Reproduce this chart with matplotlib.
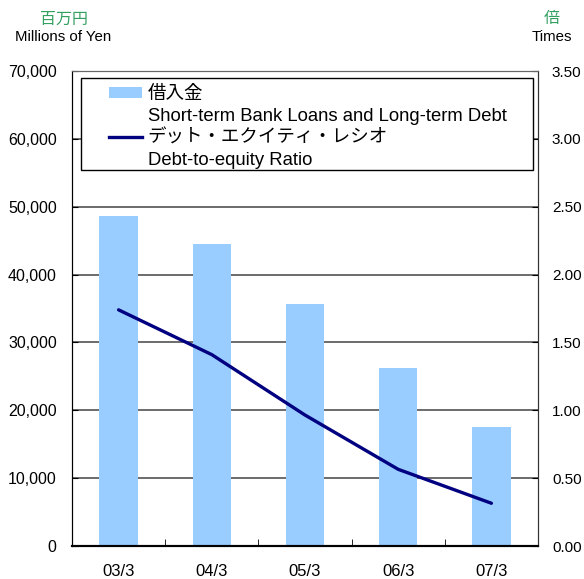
import matplotlib
matplotlib.use("Agg")
import matplotlib.pyplot as plt
from matplotlib.patches import Patch, Rectangle
from matplotlib.lines import Line2D

plt.rcParams['font.family'] = ['Liberation Sans', 'Noto Sans CJK JP', 'DejaVu Sans']

categories = ["03/3", "04/3", "05/3", "06/3", "07/3"]
loans = [48600, 44500, 35700, 26200, 17500]
de_ratio = [1.74, 1.41, 0.965, 0.565, 0.315]
left_ticks = [0, 10000, 20000, 30000, 40000, 50000, 60000, 70000]
right_ticks = [0, 0.5, 1.0, 1.5, 2.0, 2.5, 3.0, 3.5]

fig = plt.figure(figsize=(5.84, 5.79), dpi=100)
ax = fig.add_axes([72/584, 1-546/579, 466/584, 475/579])
ax2 = ax.twinx()

x = list(range(len(categories)))
ax.bar(x, loans, width=0.41, color='#99ccff', zorder=2)
ax.set_xlim(-0.5, 4.5)
ax.set_ylim(0, 70000)
ax.set_yticks(left_ticks)
ax.set_yticklabels([f"{v:,}" for v in left_ticks], fontsize=11.5)
for v in left_ticks[1:]:
    ax.axhline(v, color='#444444', lw=1.1, zorder=1)
ax.set_xticks(x)
ax.set_xticklabels(categories, fontsize=12)
ax.set_xticks([i + 0.5 for i in range(-1, 5)], minor=True)
ax.tick_params(axis='x', which='major', length=0, pad=13)
ax.tick_params(axis='x', which='minor', direction='in', length=5, color='black')
ax.tick_params(axis='y', direction='in', length=4, pad=11)

ax2.plot(x, de_ratio, color='#000080', lw=2.4, zorder=5, solid_capstyle='round')
ax2.set_ylim(0, 3.5)
ax2.set_yticks(right_ticks)
ax2.set_yticklabels([f"{v:.2f}" for v in right_ticks], fontsize=11)
ax2.tick_params(axis='y', direction='in', length=4, pad=10)

for a in (ax, ax2):
    a.spines['left'].set_color('black')
    a.spines['bottom'].set_color('black')
    a.spines['bottom'].set_linewidth(1.5)
    a.spines['right'].set_color('#333333')
    a.spines['top'].set_color('#666666')

# legend box
rect = Rectangle(((81-72)/466, (546-170)/475), (533-81)/466, (170-78)/475,
                 transform=ax2.transAxes, facecolor='white', edgecolor='black',
                 lw=1.0, zorder=3)
ax2.add_patch(rect)
blank = Patch(facecolor='none', edgecolor='none')
handles = [Patch(facecolor='#99ccff', edgecolor='none'), blank,
           Line2D([], [], color='#000080', lw=2.4), blank]
labels = ["借入金", "Short-term Bank Loans and Long-term Debt",
          "デット・エクイティ・レシオ", "Debt-to-equity Ratio"]
leg = ax2.legend(handles, labels, loc='upper left',
                 bbox_to_anchor=((109-72)/466, (546-86)/475),
                 frameon=False, fontsize=13.3, handlelength=1.8,
                 handleheight=0.6, handletextpad=0.3, labelspacing=0.26,
                 borderpad=0, borderaxespad=0)
leg.set_zorder(6)

green = '#33a060'
fig.text(64/584, 1-19/579, "百万円", color=green, fontsize=11.5, ha='center', va='center')
fig.text(63/584, 1-37/579, "Millions of Yen", color='black', fontsize=10.8, ha='center', va='center')
fig.text(552/584, 1-19/579, "倍", color=green, fontsize=11.5, ha='center', va='center')
fig.text(552/584, 1-37/579, "Times", color='black', fontsize=10.8, ha='center', va='center')

fig.savefig("out.png", dpi=100)
